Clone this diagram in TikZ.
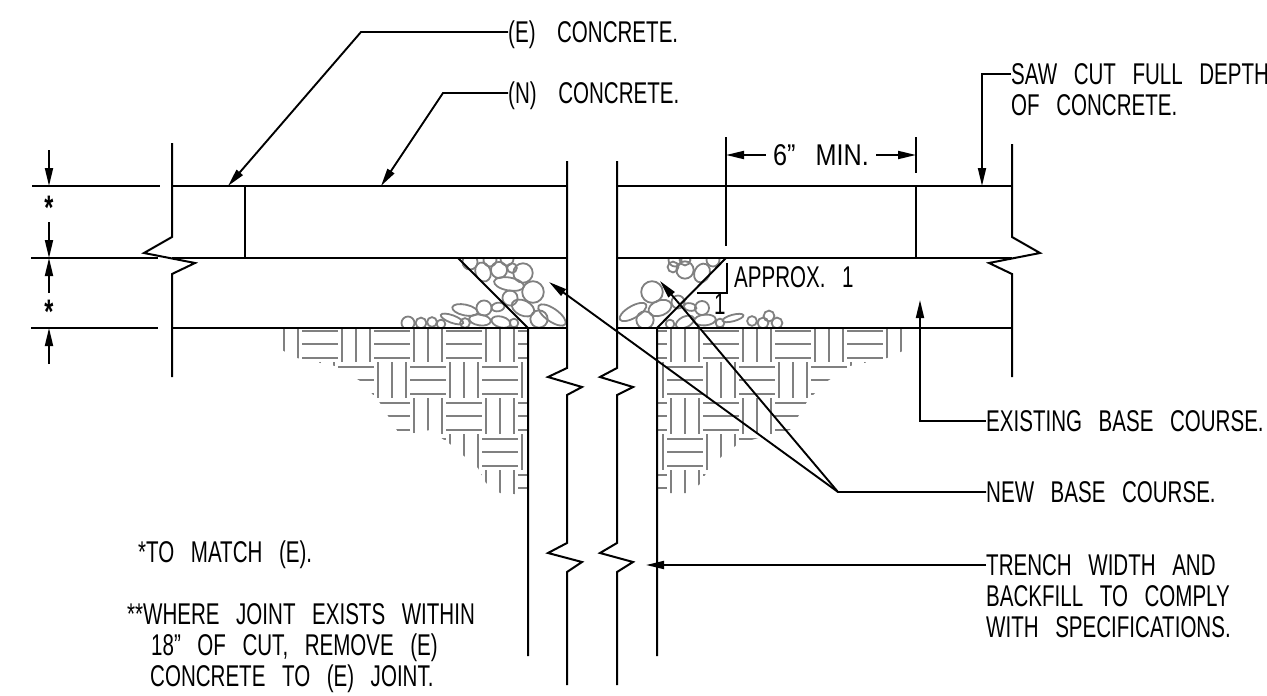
\documentclass[tikz,border=0pt]{standalone}
\usepackage{fontspec}
\setmainfont{Liberation Sans}[FakeStretch=0.685,WordSpace=2.9]
\usetikzlibrary{arrows.meta, positioning}
\tikzstyle{arrow} = [line width=1.9pt, -{Stealth[inset=0pt,length=18pt,width=8pt]}]
\tikzstyle{edge} = [line width=2pt, line join=miter]
\tikzstyle{rock} = [line width=1.8pt, draw=black!50]
\tikzstyle{weave} = [line width=1.7pt, draw=black!50]
% one row after the other, tiles of 36 with three strokes each
\newcommand{\weavetiles}[2]{%
	\foreach \k in {0,...,#2} {
		\foreach \r in {0,...,4} {
			\pgfmathtruncatemacro{\tx}{#1+36*\k}
			\pgfmathtruncatemacro{\ty}{326+36*\r}
			\pgfmathtruncatemacro{\pick}{mod(\k+\r,2)}
			\ifnum\pick=0
				\foreach \s in {5,18,32} {\draw[weave] (\tx,\ty+\s) -- (\tx+36,\ty+\s);}
			\else
				\foreach \s in {4,18,32} {\draw[weave] (\tx+\s,\ty) -- (\tx+\s,\ty+36);}
			\fi
		}
	}%
}

\begin{document}
\begin{tikzpicture}[
		x=1pt, y=-1pt,
		note/.style={anchor=west, inner sep=0pt, text height=20pt, text depth=0pt, font=\fontsize{30}{33}\selectfont},
		depthmark/.style={inner sep=0pt, font=\fontsize{34}{36}\selectfont\bfseries}
		]
		\useasboundingbox (0,0) rectangle (1267,696);
		% Rocks
		\begin{scope}
			\clip (300,258) rectangle (900,328);
			\foreach \x/\y/\a/\b/\t in {408/323/6/6/0, 421/323/5/5/0, 432/322/4.5/4.5/0, 441/324/4/4/0, 452/319/11/3.5/-20, 465/310/12/5/-12, 484/308/7/7/0, 498/307/6/4/10, 465/323/4.5/4.5/0, 480/320/10/5/-8, 501/322/9/5/-15, 514/323/4/4/0, 510/298/7/7/0, 509/284/14/6/-10, 533/292/10/10/0, 523/308/11/7/-25, 552/315/15/6/-35, 539/319/8/8/0, 523/273/9/9/0, 512/268/4.5/4.5/0, 499/270/7.5/7.5/0, 483/272/7/9/20, 470/262/7/7/0, 490/260/6/6/0, 507/259/6/6/0,
				673/267/5/5/0, 685/270/8/8/0, 702/273/7/9/-25, 675/260/6/6/0, 685/260/5/5/0, 713/260/6/6/0, 652/292/10/10/0, 633/312/14/5.5/30, 660/308/11/7/20, 645/320/8/8/0, 678/302/6/6/0, 690/307/6/3.5/-10, 702/308/6.5/6.5/0, 685/322/9/5/25, 670/324/4/4/0, 705/320/10/5/5, 720/323/4/4/0, 733/318/10/3/15, 752/321/4.5/4.5/0, 769/316/5/5/0, 763/323/5/5/0, 777/323/5/5/0} {
				\draw[rock] (\x,\y) ellipse [x radius=1.08*\a pt, y radius=1.08*\b pt, rotate=\t];
			}
		\end{scope}
		% Existing soil
		\begin{scope}
			\clip (280,328) -- (280,349) -- (297,358) -- (335,366) -- (362,382) -- (380,403) -- (398,432) -- (414,433) -- (430,430) -- (450,444) -- (478,468) -- (486,483) -- (500,493) -- (528,495) -- (528,328) -- cycle;
			\weavetiles{230}{8}
		\end{scope}
		\begin{scope}
			\clip (657,328) -- (905,328) -- (905,350) -- (887,358) -- (850,366) -- (826,382) -- (808,400) -- (790,430) -- (775,433) -- (738,444) -- (722,456) -- (708,470) -- (700,484) -- (688,493) -- (657,493) -- cycle;
			\weavetiles{631}{8}
		\end{scope}
		% Left slab
		\draw[edge] (172,143) -- (172,237) -- (144,253) -- (195,263) -- (172,274) -- (172,377);
		\draw[edge] (32,186) -- (160,186);
		\draw[edge] (172,186) -- (567,186);
		\draw[edge] (31,258) -- (158,258);
		\draw[edge] (172,258) -- (567,258);
		\draw[edge] (31,328) -- (158,328);
		\draw[edge] (172,328) -- (567,328);
		\draw[edge] (245,186) -- (245,258);
		% Right slab
		\draw[edge] (1012,144) -- (1012,237) -- (1040,253) -- (989,263) -- (1012,274) -- (1012,377);
		\draw[edge] (617,186) -- (1012,186);
		\draw[edge] (617,258) -- (1012,258);
		\draw[edge] (617,328) -- (1012,328);
		\draw[edge] (726,137) -- (726,246);
		\draw[edge] (916,137) -- (916,173);
		\draw[edge] (916,186) -- (916,258);
		% Trench
		\draw[edge] (567,161) -- (567,368) -- (548,377) -- (582,387) -- (567,395) -- (567,543) -- (548,553) -- (582,562) -- (567,572) -- (567,685);
		\draw[edge] (617,161) -- (617,368) -- (600,377) -- (633,387) -- (617,395) -- (617,543) -- (600,553) -- (633,562) -- (617,572) -- (617,685);
		\draw[edge] (458,258) -- (528,328) -- (528,656);
		\draw[edge] (726,258) -- (657,328) -- (657,656);
		\draw[edge] (727,263) -- (727,293) -- (697,293);
		% Labels
		\node[note] (econcrete) at (508,32) {(E) \,CONCRETE.};
		\node[note] (nconcrete) at (508,93) {(N) \,CONCRETE.};
		\node[note] (sawcut) at (1011,74) {SAW CUT FULL DEPTH};
		\node[note, below right=11pt and 0pt of sawcut.south west] (sawcut2) {OF CONCRETE.};
		\node[note] (approx) at (734,277) {APPROX. 1};
		\node[note] (run) at (714,304) {1};
		\node[note, anchor=center, inner xsep=7pt, font=\fontsize{30}{33}\selectfont\addfontfeature{FakeStretch=0.84}] (sixmin) at (821,155) {6” MIN.};
		\node[note] (existing) at (986,421) {EXISTING BASE COURSE.};
		\node[note] (newbase) at (986,492) {NEW BASE COURSE.};
		\node[note] (trench) at (986,565) {TRENCH WIDTH AND};
		\node[note, below right=11pt and 0pt of trench.south west] (trench2) {BACKFILL TO COMPLY};
		\node[note, below right=11pt and 0pt of trench2.south west] (trench3) {WITH SPECIFICATIONS.};
		\node[note] (match) at (138,552) {*TO MATCH (E).};
		\node[note] (joint) at (127,614) {**WHERE JOINT EXISTS WITHIN};
		\node[note] (joint2) at (151,645) {18” OF CUT, REMOVE (E)};
		\node[note] (joint3) at (150,676) {CONCRETE TO (E) JOINT.};
		\node[depthmark] (slabmark) at (49,208) {*};
		\node[depthmark] (basemark) at (49,312) {*};
		% Leaders
		\coordinate (ebend) at (361,32);
		\coordinate (etip) at (228,186);
		\coordinate (nbend) at (443,93);
		\coordinate (ntip) at (381,186);
		\coordinate (sawbend) at (982,74);
		\coordinate (sawtip) at (982,186);
		\coordinate (sixleft) at (726,155);
		\coordinate (sixright) at (916,155);
		\coordinate (existbend) at (920,421);
		\coordinate (existtip) at (920,300);
		\coordinate (newbend) at (838,492);
		\coordinate (newleft) at (549,282);
		\coordinate (newright) at (660,281);
		\coordinate (trenchtip) at (646,565);
		\draw[arrow] (econcrete.west) -- (ebend) -- (etip);
		\draw[arrow] (nconcrete.west) -- (nbend) -- (ntip);
		\draw[arrow] (sawcut.west) -- (sawbend) -- (sawtip);
		\draw[arrow] (sixmin.west) -- (sixleft);
		\draw[arrow] (sixmin.east) -- (sixright);
		\draw[arrow] (existing.west) -- (existbend) -- (existtip);
		\draw[arrow] (newbase.west) -- (newbend) -- (newleft);
		\draw[arrow] (newbend) -- (newright);
		\draw[arrow] (trench.west) -- (trenchtip);
		% Depth marks
		\coordinate (slabtop) at (49,186);
		\coordinate (slabfoot) at (49,258);
		\coordinate (basefoot) at (49,328);
		\draw[arrow] (49,150) -- (slabtop);
		\draw[arrow] (49,222) -- (slabfoot);
		\draw[arrow] (49,293) -- (slabfoot);
		\draw[arrow] (49,364) -- (basefoot);
\end{tikzpicture}
\end{document}
